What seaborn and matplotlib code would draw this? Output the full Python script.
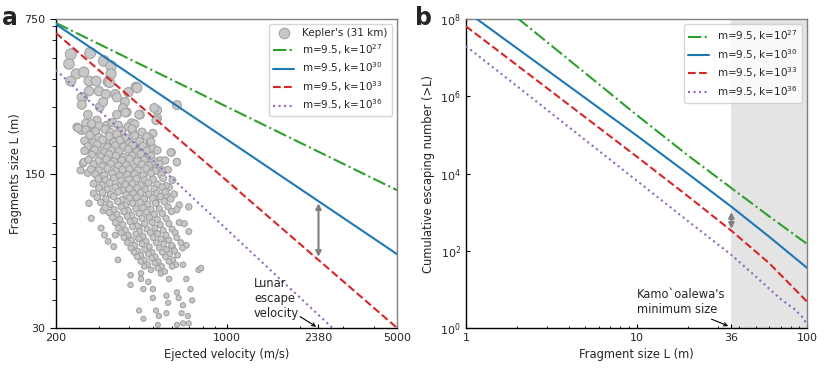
import numpy as np
import pandas as pd
import matplotlib.pyplot as plt
import seaborn as sns
from matplotlib.lines import Line2D
from matplotlib.ticker import NullFormatter, NullLocator, LogLocator

sns.set_theme(style="ticks")
plt.rcParams['font.family'] = ['DejaVu Sans']
plt.rcParams['axes.unicode_minus'] = False

# ---------- panel a: Kepler fragments (velocity m/s, size m) ----------
kepler_v = [
    230, 226, 276, 314, 336, 336, 242, 230, 260, 273, 292, 327, 425, 396, 273, 300, 258, 350, 320,
    626, 430, 355, 383, 442, 520, 520, 332, 255, 255, 254, 244, 270, 302, 294, 323, 283, 355, 390,
    408, 499, 486, 595, 626, 533, 492, 456, 430, 276, 258, 270, 302, 323, 366, 390,
    312, 376, 385, 438, 514, 505, 246, 265, 292, 273, 283, 260, 252, 312, 341, 376, 413, 425, 482,
    499, 466, 514, 591, 626, 548, 376, 320, 292,
    273, 279, 285, 312, 306, 316, 327, 350, 345, 700, 639, 700, 671, 581, 567, 514, 482, 438, 396,
    456, 514, 567, 600, 684,
    359, 404, 446, 446, 456, 499, 499, 514, 567, 576, 567, 528, 523, 438, 456, 626, 636, 663, 654,
    694, 700, 663, 626, 684, 712, 723, 768, 786, 663, 581, 538, 478, 404,
    # dense core
    280, 300, 340, 360, 395, 420,
    265, 290, 318, 335, 372, 410, 450,
    275, 300, 330, 355, 385, 420, 470,
    262, 285, 310, 345, 365, 400, 440, 490,
    270, 295, 325, 350, 378, 412, 455,
    262, 288, 315, 338, 362, 395, 430, 470, 520,
    280, 305, 330, 352, 380, 410, 445, 490,
    272, 298, 322, 345, 372, 400, 430, 460, 505, 560,
    285, 310, 335, 360, 388, 415, 450, 480, 530,
    278, 300, 325, 350, 375, 400, 432, 468, 510, 575,
    290, 315, 340, 365, 392, 420, 455, 490, 540,
    298, 320, 345, 370, 398, 428, 462, 500, 550, 600,
    285, 308, 332, 358, 385, 412, 445, 478, 520, 565,
    300, 325, 350, 375, 400, 430, 465, 505, 545,
    310, 335, 360, 388, 415, 445, 480, 518, 560, 610,
    295, 320, 345, 372, 400, 428, 460, 498, 535, 590,
    305, 332, 358, 385, 412, 442, 475, 512, 555,
    318, 345, 370, 395, 425, 455, 490, 530, 575, 625,
    330, 355, 380, 408, 438, 470, 505, 545, 595,
    340, 365, 392, 420, 450, 482, 520, 565,
    350, 375, 402, 430, 462, 495, 535, 580, 640,
    360, 385, 412, 440, 472, 508, 550, 598,
    370, 395, 425, 455, 488, 522, 565, 615,
    380, 408, 436, 468, 500, 538, 580, 625,
    392, 420, 450, 482, 515, 552, 595, 650,
    405, 432, 462, 495, 530, 568, 612, 660,
    418, 445, 478, 510, 545, 585, 630,
    430, 460, 492, 525, 562, 602,
    445, 475, 508, 542, 580, 620,
    460, 490, 522, 558, 598,
]
kepler_L = [
    520, 470, 527, 485, 460, 424, 424, 393, 432, 393, 393, 390, 370, 350, 354, 354, 332, 343, 343,
    306, 366, 332, 316, 277, 290, 267, 387, 332, 307, 235, 243, 277, 300, 261, 248, 231, 277, 284,
    254, 228, 207, 187, 169, 172, 161, 178, 198, 191, 167, 151, 186, 212, 219, 198,
    316, 297, 283, 277, 261, 297, 241, 254, 241, 208, 189, 169, 155, 203, 217, 208, 231, 189, 217,
    196, 169, 164, 187, 169, 155, 169, 164, 152,
    110, 94, 122, 102, 85, 79, 74, 79, 70, 82, 108, 106, 89, 130, 120, 111, 95, 86, 77,
    75, 81, 75, 70, 71,
    61, 52, 53, 50, 45, 45, 41, 36, 42, 39, 35, 34, 31, 36, 33, 43.5, 41, 38, 35,
    34, 31.5, 31.5, 31, 50, 45, 40, 55, 56, 58, 50, 53, 48.5, 47,
    # dense core
    252, 246, 255, 248, 244, 251,
    236, 232, 238, 230, 234, 239, 231,
    224, 219, 221, 226, 218, 223, 220,
    211, 207, 213, 208, 212, 206, 210, 209,
    199, 203, 197, 201, 198, 202, 200,
    190, 192, 187, 191, 189, 193, 188, 190, 191,
    182, 179, 183, 180, 178, 181, 184, 180,
    173, 171, 174, 170, 172, 175, 171, 173, 170, 172,
    165, 162, 166, 163, 164, 161, 165, 163, 166,
    157, 155, 158, 154, 156, 157, 155, 158, 154, 156,
    149, 147, 150, 146, 148, 149, 147, 150, 148,
    142, 140, 143, 139, 141, 142, 140, 141, 143, 140,
    135, 133, 136, 132, 134, 135, 133, 136, 134, 132,
    129, 127, 130, 126, 128, 129, 127, 128, 130,
    123, 121, 124, 120, 122, 123, 121, 122, 124, 121,
    117, 115, 118, 114, 116, 117, 115, 116, 118, 115,
    111, 109, 112, 108, 110, 111, 109, 110, 112,
    105, 103, 106, 102, 104, 105, 103, 104, 106, 103,
    100, 98, 101, 97, 99, 100, 98, 99, 101,
    95, 93, 96, 92, 94, 95, 93, 94,
    90, 88, 91, 87, 89, 90, 88, 89, 90,
    85, 83, 86, 82, 84, 85, 83, 84,
    81, 79, 80, 78, 81, 80, 79, 81,
    77, 75, 76, 74, 77, 76, 75, 77,
    73, 71, 72, 70, 73, 72, 71, 73,
    69, 67, 68, 66, 69, 68, 67, 69,
    66, 64, 65, 63, 66, 65, 64,
    63, 61, 62, 60, 63, 61,
    60, 58, 59, 57, 60, 58,
    57, 55, 56, 54, 57,
]

# model lines for panel a (value at v = 200 and v = 5000)
vel_ends = [200, 5000]
L_k27 = [720, 126]
L_k30 = [710, 64.7]
L_k33 = [648, 30]
L_k36 = [441, 16]

# ---------- panel b: cumulative escaping number ----------
Lb_k27 = [2, 5, 10, 20, 36, 60, 100]
N_k27 = [1.07e8, 4.0e6, 3.3e5, 2.95e4, 4200, 777, 150]
Lb_k30 = [1, 2, 5, 10, 20, 36, 60, 100]
N_k30 = [1.61e8, 1.73e7, 9.06e5, 9.7e4, 9.9e3, 1380, 230, 36]
Lb_k33 = [1, 2, 5, 10, 20, 36, 60, 100]
N_k33 = [6.5e7, 6.3e6, 2.87e5, 2.77e4, 2590, 330, 47.5, 4.8]
Lb_k36 = [1, 2, 5, 10, 20, 36, 50, 70, 85, 95, 100]
N_k36 = [2e7, 1.8e6, 7.4e4, 6.6e3, 590, 78, 21.6, 5.6, 3.0, 1.8, 1.2]

labels = [r"m=9.5, k=10$^{27}$", r"m=9.5, k=10$^{30}$",
          r"m=9.5, k=10$^{33}$", r"m=9.5, k=10$^{36}$"]
colors = ['#2ca02c', '#1f77b4', '#d62728', '#9467bd']
styles = ['-.', '-', '--', ':']

FS = 8.3
fig = plt.figure(figsize=(8.3, 3.74), dpi=100)
ax1 = fig.add_axes([0.0675, 0.123, 0.411, 0.826])
ax2 = fig.add_axes([0.5614, 0.123, 0.411, 0.826])

# ===== panel a =====
kep = pd.DataFrame({'v': kepler_v, 'L': kepler_L})
sns.scatterplot(data=kep, x='v', y='L', size='L', sizes=(13, 62), size_norm=(30, 520),
                color='#c8c8c8', edgecolor='#a2a2a2', linewidth=0.8, legend=False,
                ax=ax1, zorder=2)
for yv, c, ls in zip([L_k27, L_k30, L_k33, L_k36], colors, styles):
    sns.lineplot(x=vel_ends, y=yv, color=c, linestyle=ls, linewidth=1.5, ax=ax1, zorder=3)

ax1.set_xscale('log'); ax1.set_yscale('log')
ax1.set_xlim(200, 5000); ax1.set_ylim(30, 750)
ax1.set_xticks([200, 1000, 2380, 5000], ['200', '1000', '2380', '5000'])
ax1.set_yticks([30, 150, 750], ['30', '150', '750'])
ax1.xaxis.set_minor_locator(LogLocator(base=10, subs=np.arange(2, 10)))
ax1.yaxis.set_minor_locator(LogLocator(base=10, subs=np.arange(2, 10)))
ax1.xaxis.set_minor_formatter(NullFormatter())
ax1.yaxis.set_minor_formatter(NullFormatter())
ax1.set_xlabel("Ejected velocity (m/s)", fontsize=FS)
ax1.set_ylabel("Fragments size L (m)", fontsize=FS, labelpad=1.5)

ax1.annotate('', xy=(2380, 63), xytext=(2380, 110),
             arrowprops=dict(arrowstyle='<|-|>', color='#808080', lw=1.5,
                             shrinkA=0, shrinkB=0, mutation_scale=8))
ax1.text(1296, 32.5, "Lunar\nescape\nvelocity", fontsize=FS, ha='left', va='bottom')
ax1.annotate('', xy=(2330, 30.4), xytext=(2000, 33.8),
             arrowprops=dict(arrowstyle='->', color='black', lw=0.8,
                             shrinkA=0, shrinkB=0, mutation_scale=6))

h1 = [Line2D([], [], marker='o', ls='', markersize=7.5, markerfacecolor='#c8c8c8',
             markeredgecolor='#a2a2a2', markeredgewidth=0.8)]
h1 += [Line2D([], [], color=c, ls=ls, lw=1.5) for c, ls in zip(colors, styles)]
ax1.legend(h1, ["Kepler's (31 km)"] + labels, loc='upper right', fontsize=7.5,
           labelspacing=0.35, frameon=True, edgecolor='#cccccc', framealpha=0.8)

# ===== panel b =====
ax2.axvspan(36, 100, color='#e4e4e4', lw=0, zorder=0)
for xv, yv, c, ls in zip([Lb_k27, Lb_k30, Lb_k33, Lb_k36], [N_k27, N_k30, N_k33, N_k36],
                         colors, styles):
    sns.lineplot(x=xv, y=yv, color=c, linestyle=ls, linewidth=1.5, ax=ax2, zorder=3)

ax2.set_xscale('log'); ax2.set_yscale('log')
ax2.set_xlim(1, 100); ax2.set_ylim(1, 1e8)
ax2.set_xticks([1, 10, 36, 100], ['1', '10', '36', '100'])
ax2.set_yticks([1, 1e2, 1e4, 1e6, 1e8])
ax2.xaxis.set_minor_locator(LogLocator(base=10, subs=np.arange(2, 10)))
ax2.yaxis.set_minor_locator(NullLocator())
ax2.xaxis.set_minor_formatter(NullFormatter())
ax2.set_xlabel("Fragment size L (m)", fontsize=FS)
ax2.set_ylabel("Cumulative escaping number (>L)", fontsize=FS)

ax2.annotate('', xy=(36, 370), xytext=(36, 1000),
             arrowprops=dict(arrowstyle='<|-|>', color='#808080', lw=1.5,
                             shrinkA=0, shrinkB=0, mutation_scale=8))
ax2.text(10.1, 2.0, "Kamo`oalewa's\nminimum size", fontsize=FS, ha='left', va='bottom')
ax2.annotate('', xy=(34.5, 1.12), xytext=(27.5, 1.7),
             arrowprops=dict(arrowstyle='->', color='black', lw=0.8,
                             shrinkA=0, shrinkB=0, mutation_scale=6))

h2 = [Line2D([], [], color=c, ls=ls, lw=1.5) for c, ls in zip(colors, styles)]
ax2.legend(h2, labels, loc='upper right', fontsize=7.5, labelspacing=0.35,
           frameon=True, edgecolor='#cccccc', framealpha=0.8)

# tick directions: x ticks point inward, left-panel y ticks outward, right-panel y inward
for ax in (ax1, ax2):
    ax.tick_params(axis='both', which='both', labelsize=8, color='black',
                   bottom=True, left=True, top=False, right=False)
    ax.tick_params(axis='x', which='major', direction='in', length=3, width=0.8)
    ax.tick_params(axis='x', which='minor', direction='in', length=1.8, width=0.6)
    for side in ('left', 'bottom'):
        ax.spines[side].set_color('black')
        ax.spines[side].set_linewidth(1.0)
    for side in ('top', 'right'):
        ax.spines[side].set_visible(True)
        ax.spines[side].set_color('#808080')
        ax.spines[side].set_linewidth(1.0)
ax1.tick_params(axis='y', which='major', direction='out', length=4, width=0.8)
ax1.tick_params(axis='y', which='minor', direction='out', length=3, width=0.6)
ax2.tick_params(axis='y', which='major', direction='in', length=3, width=0.8)

fig.text(0.003, 0.933, 'a', fontsize=17, fontweight='bold', va='baseline')
fig.text(0.4995, 0.933, 'b', fontsize=17, fontweight='bold', va='baseline')

fig.savefig('out.png', dpi=100)
